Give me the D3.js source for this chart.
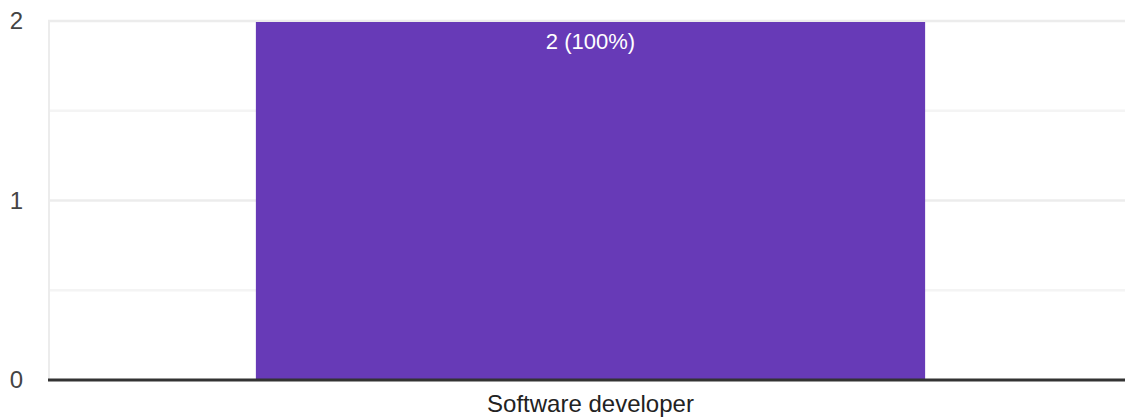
<!DOCTYPE html>
<html>
<head>
<meta charset="utf-8">
<script src="https://cdn.jsdelivr.net/npm/d3@7"></script>
<style>
  body { margin: 0; background: #fff; }
  text { font-family: Arial, "Liberation Sans", sans-serif; }
</style>
</head>
<body>
<div class="view"></div>
<script>
var categories = ["Software developer"];
var counts = [2];
var percents = ["100%"];
var yTicks = [0, 1, 2];
var yMinor = [0.5, 1.5];

var width = 1126;
var height = 419;
var plotLeft = 48, plotRight = 1125, plotTop = 21, plotBottom = 380;

var svg = d3.select('.view')
  .append('svg')
  .attr('width', width)
  .attr('height', height);

var x = d3.scaleBand()
  .domain(categories)
  .range([plotLeft, 1133])
  .padding(0.237);

var y = d3.scaleLinear()
  .domain([0, 2])
  .range([plotBottom, plotTop]);

// minor gridlines
svg.selectAll(".minor")
  .data(yMinor)
  .enter()
  .append("line")
  .attr("x1", plotLeft)
  .attr("x2", plotRight)
  .attr("y1", function(d) { return y(d); })
  .attr("y2", function(d) { return y(d); })
  .attr("stroke", "#f4f4f4")
  .attr("stroke-width", 2.5);

// major gridlines
svg.selectAll(".major")
  .data(yTicks.filter(function(d) { return d > 0; }))
  .enter()
  .append("line")
  .attr("x1", plotLeft)
  .attr("x2", plotRight)
  .attr("y1", function(d) { return y(d); })
  .attr("y2", function(d) { return y(d); })
  .attr("stroke", "#ececec")
  .attr("stroke-width", 2.5);

// left edge
svg.append("line")
  .attr("x1", plotLeft + 1)
  .attr("x2", plotLeft + 1)
  .attr("y1", y(2))
  .attr("y2", y(0))
  .attr("stroke", "#ececec")
  .attr("stroke-width", 2);

svg.selectAll(".bar")
  .data(categories)
  .enter()
  .append("rect")
  .attr("class", "bar")
  .attr("x", function(d) { return x(d); })
  .attr("y", function(d, i) { return y(counts[i]) + 1; })
  .attr("width", x.bandwidth())
  .attr("height", function(d, i) { return y(0) - y(counts[i]) - 1; })
  .attr("fill", "#673ab7");

svg.selectAll(".val")
  .data(categories)
  .enter()
  .append("text")
  .attr("x", function(d) { return x(d) + x.bandwidth() / 2; })
  .attr("y", function(d, i) { return y(counts[i]) + 28; })
  .attr("text-anchor", "middle")
  .attr("fill", "#fff")
  .style("font-size", "22px")
  .text(function(d, i) { return counts[i] + " (" + percents[i] + ")"; });

// baseline
svg.append("line")
  .attr("x1", plotLeft)
  .attr("x2", plotRight)
  .attr("y1", y(0))
  .attr("y2", y(0))
  .attr("stroke", "#333")
  .attr("stroke-width", 3);

svg.selectAll(".ytick")
  .data(yTicks)
  .enter()
  .append("text")
  .attr("x", 23)
  .attr("y", function(d) { return y(d); })
  .attr("dy", "0.35em")
  .attr("text-anchor", "end")
  .attr("fill", "#444")
  .style("font-size", "24px")
  .text(function(d) { return d; });

svg.selectAll(".xlabel")
  .data(categories)
  .enter()
  .append("text")
  .attr("x", function(d) { return x(d) + x.bandwidth() / 2; })
  .attr("y", 412)
  .attr("text-anchor", "middle")
  .attr("fill", "#222")
  .style("font-size", "24px")
  .text(function(d) { return d; });
</script>
</body>
</html>
